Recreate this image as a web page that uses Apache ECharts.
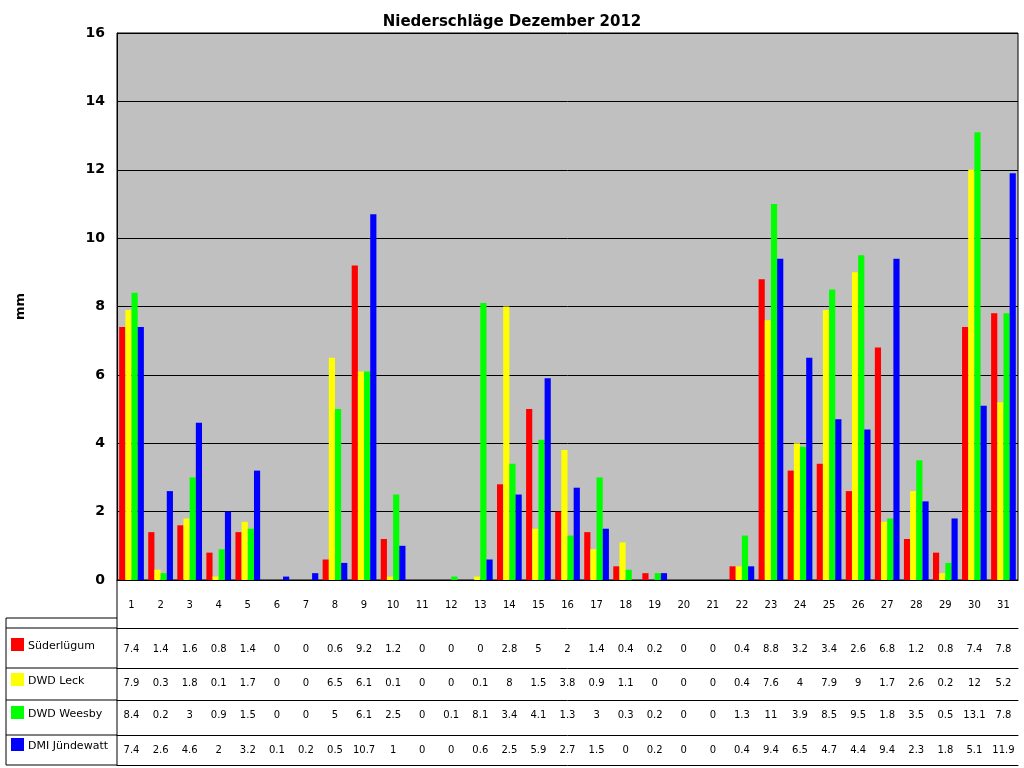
<!DOCTYPE html><html><head><meta charset="utf-8"><script src="https://cdn.jsdelivr.net/npm/echarts@6/dist/echarts.min.js"></script></head><body style="margin:0"><div id="c" style="width:1024px;height:768px"></div><script>
const days=[...Array(31)].map((_,i)=>String(i+1));
const sueder=[7.4,1.4,1.6,0.8,1.4,0,0,0.6,9.2,1.2,0,0,0,2.8,5,2,1.4,0.4,0.2,0,0,0.4,8.8,3.2,3.4,2.6,6.8,1.2,0.8,7.4,7.8];
const leck=[7.9,0.3,1.8,0.1,1.7,0,0,6.5,6.1,0.1,0,0,0.1,8,1.5,3.8,0.9,1.1,0,0,0,0.4,7.6,4,7.9,9,1.7,2.6,0.2,12,5.2];
const weesby=[8.4,0.2,3,0.9,1.5,0,0,5,6.1,2.5,0,0.1,8.1,3.4,4.1,1.3,3,0.3,0.2,0,0,1.3,11,3.9,8.5,9.5,1.8,3.5,0.5,13.1,7.8];
const dmi=[7.4,2.6,4.6,2,3.2,0.1,0.2,0.5,10.7,1,0,0,0.6,2.5,5.9,2.7,1.5,0,0.2,0,0,0.4,9.4,6.5,4.7,4.4,9.4,2.3,1.8,5.1,11.9];
const names=['Süderlügum','DWD Leck','DWD Weesby','DMI Jündewatt'];
const colors=['#ff0000','#ffff00','#00ff00','#0000ff'];
const vals=[sueder,leck,weesby,dmi];
const rowTop=[628,668,700,735],rowBot=765;
const ch=echarts.init(document.getElementById('c'));
const lbl={fontFamily:'DejaVu Sans',fontSize:10,color:'#000'};
const xAxes=[{type:'category',data:days,position:'bottom',offset:0,axisLine:{lineStyle:{color:'#000'}},axisTick:{length:rowBot-580,lineStyle:{color:'#000'}},axisLabel:Object.assign({margin:20,interval:0},lbl)}];
vals.forEach((v,i)=>xAxes.push({type:'category',data:v.map(String),position:'bottom',offset:rowTop[i]-580,axisLine:{lineStyle:{color:'#000'}},axisTick:{show:false},axisLabel:Object.assign({margin:i==0?16:10,interval:0},lbl)}));
xAxes.push({type:'category',data:days,position:'bottom',offset:rowBot-580,axisLine:{lineStyle:{color:'#000'}},axisTick:{show:false},axisLabel:{show:false}});
const g=[];
g.push({type:'line',shape:{x1:6,y1:618,x2:117,y2:618},style:{stroke:'#000'}});
g.push({type:'line',shape:{x1:6,y1:618,x2:6,y2:rowBot},style:{stroke:'#000'}});
g.push({type:'line',shape:{x1:117,y1:580,x2:117,y2:rowBot},style:{stroke:'#000'}});
g.push({type:'line',shape:{x1:6,y1:rowBot,x2:117,y2:rowBot},style:{stroke:'#000'}});
rowTop.forEach((t,i)=>{
 const cy=[650,685,718,750][i];
 g.push({type:'line',shape:{x1:6,y1:t,x2:117,y2:t},style:{stroke:'#000'}});
 g.push({type:'rect',shape:{x:11,y:cy-12,width:13,height:13},style:{fill:colors[i]}});
 g.push({type:'text',x:28,y:cy-4,style:{text:names[i],font:'11px DejaVu Sans',fill:'#000',textVerticalAlign:'middle'}});
});
ch.setOption({animation:false,
 title:{text:'Niederschläge Dezember 2012',left:'center',top:10,textStyle:{fontFamily:'DejaVu Sans',fontSize:15,fontWeight:'bold',color:'#000'}},
 grid:{left:117,right:6,top:33,bottom:188,show:true,backgroundColor:'#c0c0c0',borderColor:'#000'},
 xAxis:xAxes,
 yAxis:{type:'value',min:0,max:16,interval:2,name:'mm',nameLocation:'middle',nameGap:90,nameTextStyle:{fontFamily:'DejaVu Sans',fontWeight:'bold',fontSize:13,color:'#000'},
  axisLine:{show:true,lineStyle:{color:'#000'}},axisTick:{show:false},splitLine:{lineStyle:{color:'#000'}},
  axisLabel:{fontFamily:'DejaVu Sans',fontWeight:'bold',fontSize:14,color:'#000',margin:12}},
 series:vals.map((v,i)=>({type:'bar',name:names[i],data:v,xAxisIndex:0,itemStyle:{color:colors[i]},barGap:'0%',barCategoryGap:'15%'})),
 graphic:g
});
</script></body></html>
